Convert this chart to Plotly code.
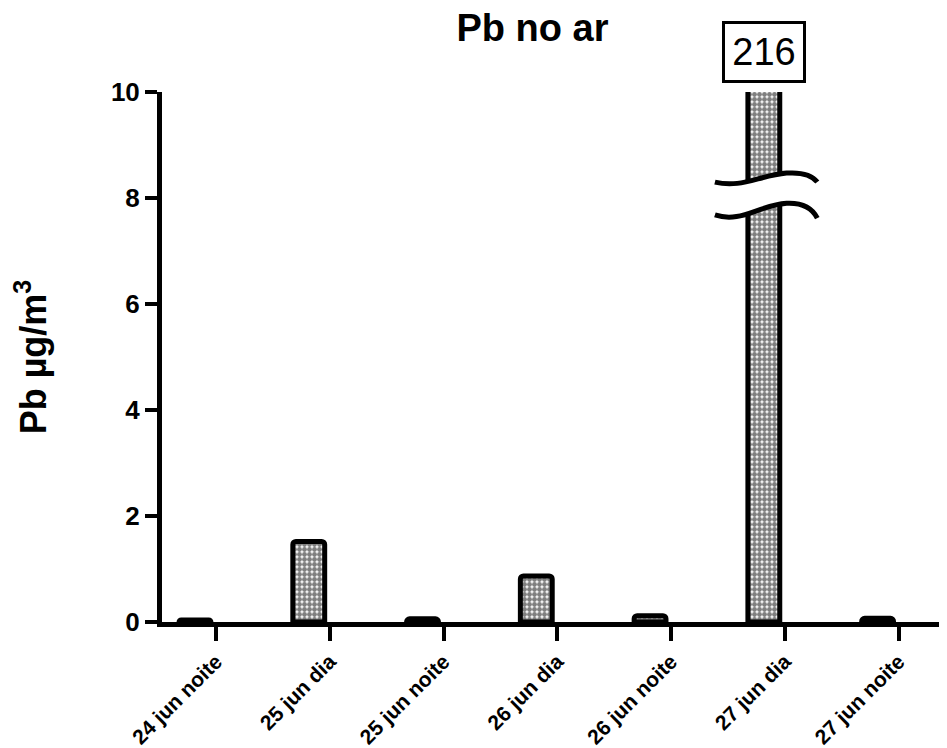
import plotly.graph_objects as go

categories = ["24 jun noite", "25 jun dia", "25 jun noite", "26 jun dia",
              "26 jun noite", "27 jun dia", "27 jun noite"]
values = [0.04, 1.52, 0.06, 0.87, 0.12, 216, 0.07]
y_ticks = [0, 2, 4, 6, 8, 10]
y_cap = 10

FONT = "Liberation Sans, Arial, sans-serif"
idx = list(range(len(categories)))
broken = [i for i, v in enumerate(values) if v > y_cap]

W, H = 939, 740  # page body has an 8px margin

fig = go.Figure()
fig.add_trace(go.Bar(
    x=idx, y=values, width=0.28,
    marker=dict(color="white", line=dict(color="black", width=5),
                cornerradius=3,
                pattern=dict(shape=".", fgcolor="black", bgcolor="white",
                             size=5, solidity=0.75)),
    hoverinfo="skip",
))

shapes = []
annotations = []
for b in broken:
    up = f"M {b-0.43},8.30 C {b-0.20},8.18 {b-0.05},8.42 {b+0.20},8.47 Q {b+0.40},8.50 {b+0.47},8.30"
    lo = f"M {b-0.43},7.68 C {b-0.20},7.52 {b-0.05},7.86 {b+0.20},7.90 Q {b+0.40},7.92 {b+0.47},7.62"
    gap = (f"M {b-0.2},8.22 C {b-0.05},8.42 {b+0.05},8.44 {b+0.2},8.47 "
           f"L {b+0.2},7.90 C {b+0.05},7.86 {b-0.05},7.80 {b-0.2},7.62 Z")
    shapes.append(dict(type="path", path=gap, xref="x", yref="y",
                       fillcolor="white", line=dict(width=0), layer="above"))
    for p in (up, lo):
        shapes.append(dict(type="path", path=p, xref="x", yref="y",
                           line=dict(color="black", width=5), layer="above"))
    annotations.append(dict(x=b, y=y_cap, xref="x", yref="y", text=str(values[b]),
                            showarrow=False, yanchor="bottom", yshift=9,
                            width=72, height=50, align="center", valign="middle",
                            font=dict(family=FONT, size=38, color="black"),
                            bordercolor="black", borderwidth=3, borderpad=3,
                            bgcolor="white"))

fig.update_layout(
    width=W, height=H,
    margin=dict(l=154, r=0, t=84, b=126),
    paper_bgcolor="white", plot_bgcolor="white",
    showlegend=False,
    title=dict(text="<b>Pb no ar</b>", x=524.5 / W, xref="container", xanchor="center",
               y=1 - 20 / H, yref="container", yanchor="middle",
               font=dict(family=FONT, size=38, color="black")),
    shapes=shapes, annotations=annotations,
)
fig.update_xaxes(
    range=[-0.29, 6.61], tickmode="array",
    tickvals=[i + 0.185 for i in idx],
    ticktext=[f"<b>{c}</b>" for c in categories],
    tickangle=-45, tickfont=dict(family=FONT, size=21, color="black"),
    showline=True, linecolor="black", linewidth=5,
    ticks="outside", ticklen=14, tickwidth=4, tickcolor="black",
    showgrid=False, zeroline=False, fixedrange=True,
)
fig.update_yaxes(
    range=[0, y_cap], tickmode="array", tickvals=y_ticks,
    ticktext=[f"<b>{t}</b>" for t in y_ticks],
    tickfont=dict(family=FONT, size=26, color="black"),
    showline=True, linecolor="black", linewidth=5,
    ticks="outside", ticklen=12, tickwidth=4, tickcolor="black",
    showgrid=False, zeroline=False, fixedrange=True,
    title=dict(text="<b>Pb µg/m<sup>3</sup></b>", standoff=55,
               font=dict(family=FONT, size=36, color="black")),
)

fig.write_html("out.html")
